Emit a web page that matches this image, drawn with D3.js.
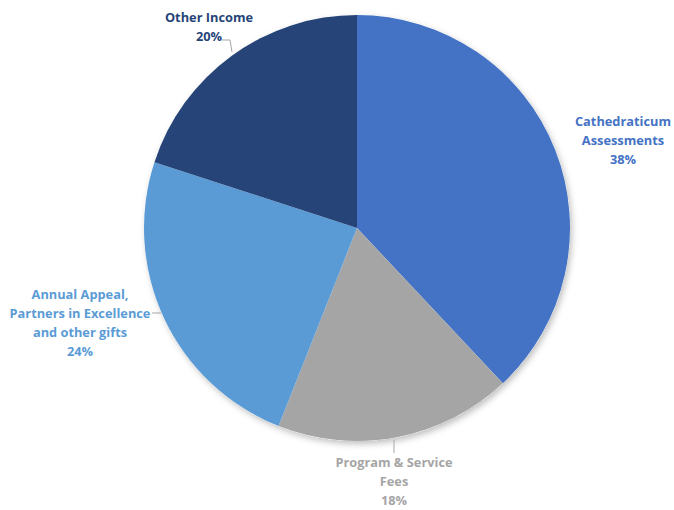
<!DOCTYPE html>
<html><head><meta charset="utf-8">
<script src="https://cdn.jsdelivr.net/npm/d3@7/dist/d3.min.js"></script>
<style>body{margin:0;background:#fff}svg{display:block}</style>
</head><body>
<svg id="c" width="674" height="510"></svg>
<script>
const categories = ["Cathedraticum Assessments", "Program & Service Fees", "Annual Appeal, Partners in Excellence and other gifts", "Other Income"];
const values = [38, 18, 24, 20];
const colors = ["#4472C4", "#A5A5A5", "#5B9BD5", "#264478"];
const labelLines = [["Cathedraticum", "Assessments", "38%"], ["Program & Service", "Fees", "18%"], ["Annual Appeal,", "Partners in Excellence", "and other gifts", "24%"], ["Other Income", "20%"]];

const svg = d3.select("#c");
const cx = 357, cy = 228, r = 213;
const defs = svg.append("defs");
const f = defs.append("filter").attr("id","sh").attr("x","-10%").attr("y","-10%").attr("width","120%").attr("height","120%");
f.append("feDropShadow").attr("dx",2).attr("dy",3).attr("stdDeviation",3).attr("flood-color","#000").attr("flood-opacity",0.25);

const pie = d3.pie().sort(null).value(d => d)(values);
const arc = d3.arc().innerRadius(0).outerRadius(r);
const g = svg.append("g").attr("transform", `translate(${cx},${cy})`);
g.append("circle").attr("r", r).attr("fill","#fff").attr("filter","url(#sh)");
g.selectAll("path").data(pie).join("path").attr("d", arc).attr("fill", (d,i) => colors[i]);

// label positions (center x, first baseline y)
const labelPos = [[623,126],[394,467],[80,299],[209,22]];
const lh = 19;
labelLines.forEach((lines, i) => {
  const t = svg.append("text").attr("text-anchor","middle").attr("fill", colors[i])
    .attr("font-family","'Open Sans', sans-serif").attr("font-weight","bold").attr("font-size","12.8px");
  lines.forEach((s, j) => t.append("tspan").attr("x", labelPos[i][0]).attr("y", labelPos[i][1] + j*lh).text(s));
});

// leader lines
const leaders = [
  [[222,40],[230,40],[232,52]],
  [[152,313],[161,313]],
  [[394,440],[394,453]]
];
leaders.forEach(p => svg.append("path").attr("d", d3.line()(p)).attr("fill","none").attr("stroke","#a6a6a6").attr("stroke-width",1));
</script>
</body></html>
